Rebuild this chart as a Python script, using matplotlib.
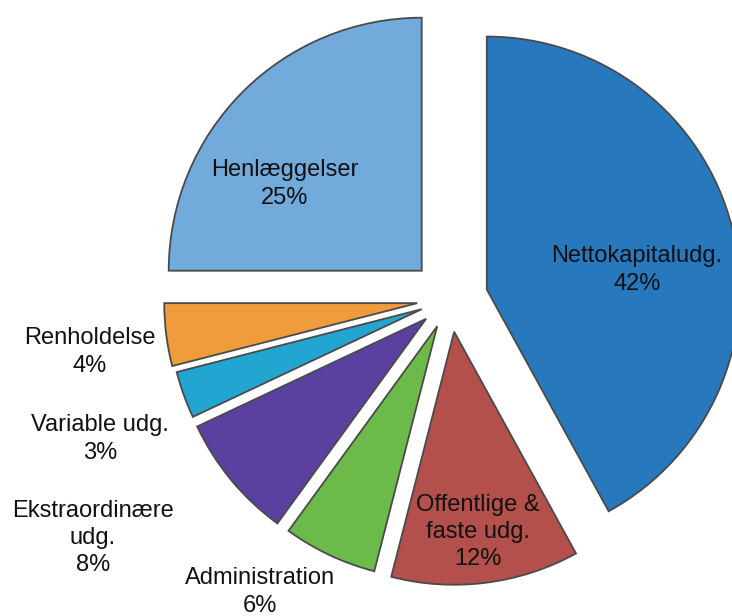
import matplotlib
matplotlib.use("Agg")
import matplotlib.pyplot as plt

# data, clockwise from 12 o'clock
kategorier = ["Nettokapitaludg.", "Offentlige &\nfaste udg.", "Administration",
              "Ekstraordinære\nudg.", "Variable udg.", "Renholdelse", "Henlæggelser"]
andele = [42, 12, 6, 8, 3, 4, 25]
farver = ["#2878be", "#b4504b", "#6cbb4a", "#5a41a0", "#23a5d2", "#f09b3c", "#72aadc"]
# explode distance in pixels (pie uses data units for this)
explode = [38, 33, 30, 31, 30, 33, 40]

# label positions in pixel coords (x, y from top)
label_pos = [(637, 270), (478, 532), (260, 592), (93, 538), (100, 439), (90, 352), (285, 184)]

W, H = 732, 616
plt.rcParams['font.family'] = ['Liberation Sans', 'DejaVu Sans']

fig = plt.figure(figsize=(W / 100, H / 100), dpi=100)
ax = fig.add_axes([0, 0, 1, 1])

wedges, _ = ax.pie(
    andele,
    colors=farver,
    explode=explode,
    startangle=90,
    counterclock=False,
    center=(450, H - 299),
    radius=253,
    wedgeprops=dict(edgecolor="#4a4a4a", linewidth=1.3),
)

for navn, v, (x, y) in zip(kategorier, andele, label_pos):
    ax.text(x, H - y, f"{navn}\n{v}%", ha="center", va="center",
            fontsize=17, color="#111111", linespacing=1.3)

ax.set_xlim(0, W)
ax.set_ylim(0, H)
ax.set_aspect("equal")
ax.axis("off")

fig.savefig("out.png", dpi=100, facecolor="white")
